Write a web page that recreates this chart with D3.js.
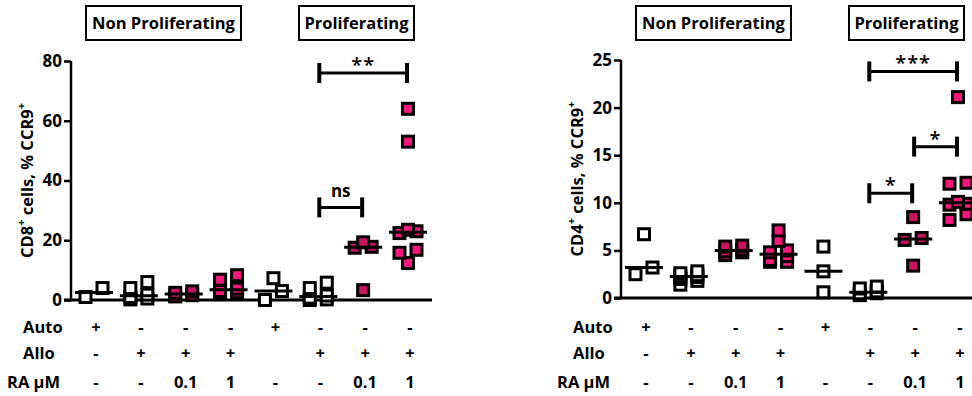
<!DOCTYPE html>
<html>
<head>
<meta charset="utf-8">
<script src="https://cdn.jsdelivr.net/npm/d3@7"></script>
<style>
  body { margin: 0; background: #fff; }
  svg { display: block; font-family: "Open Sans", Lato, sans-serif; font-weight: 700; }
</style>
</head>
<body>
<svg id="chart" width="972" height="396"></svg>
<script>
// ===== data =====
const groups = ['g1', 'g2', 'g3', 'g4', 'g5', 'g6', 'g7', 'g8'];
const rowNames = ['Auto', 'Allo', 'RA µM'];
const autoRow = ['+', '-', '-', '-', '+', '-', '-', '-'];
const alloRow = ['-', '+', '+', '+', '', '+', '+', '+'];
const raRow = ['-', '-', '0.1', '1', '-', '-', '0.1', '1'];
const fillKind = ['open', 'open', 'dark', 'pink', 'open', 'open', 'dark', 'pink'];
const headerLabels = ['Non Proliferating', 'Proliferating'];

// CD8 panel
const cd8Ticks = [0, 20, 40, 60, 80];
const cd8Values = [
  [1.0, 4.0],
  [6.0, 4.0, 1.8, 1.0, 0.5, 0.2],
  [2.9, 2.4, 1.6, 1.2],
  [8.3, 6.8, 3.8, 3.0, 2.6, 2.0],
  [7.3, 3.0, 0.0],
  [5.8, 4.0, 1.5, 0.8, 0.2, 0.0],
  [19.3, 17.8, 17.5, 3.3],
  [64, 53, 23.5, 23.0, 22.4, 16.8, 15.8, 12.4]
];
const cd8Sig = [
  { from: 5, to: 6, y: 31, label: 'ns' },
  { from: 5, to: 7, y: 76, label: '**' }
];

// CD4 panel
const cd4Ticks = [0, 5, 10, 15, 20, 25];
const cd4Values = [
  [6.7, 3.2, 2.5],
  [2.8, 2.6, 2.4, 2.3, 2.2, 2.0, 1.8, 1.4],
  [5.5, 5.4, 5.1, 4.9, 4.8, 4.5],
  [7.1, 6.0, 5.0, 4.8, 4.4, 4.0, 3.8, 3.8],
  [5.4, 2.8, 0.6],
  [1.2, 1.0, 0.7, 0.5, 0.5, 0.3],
  [8.5, 6.3, 6.1, 3.4],
  [21.1, 12.1, 12.0, 10.1, 9.9, 9.8, 8.8, 8.2]
];
const cd4Sig = [
  { from: 5, to: 6, y: 11.0, label: '*' },
  { from: 6, to: 7, y: 15.9, label: '*' },
  { from: 5, to: 7, y: 23.8, label: '***' }
];

const colors = { open: '#ffffff', dark: '#c8135f', pink: '#f5187c' };

const svg = d3.select('#chart');

// spread points of similar value side by side, two per row (lower value on the left)
function spread(vals, y, step) {
  const pts = vals.map(v => ({ v, py: y(v) })).sort((a, b) => b.py - a.py);
  const out = [];
  let row = [];
  const flush = () => {
    row.forEach((p, i) => { p.dx = (i - (row.length - 1) / 2) * step; out.push(p); });
    row = [];
  };
  pts.forEach(p => {
    if (row.length && (row[0].py - p.py > 9 || row.length >= 2)) flush();
    row.push(p);
  });
  flush();
  return out;
}

function drawPanel(ox, values, ticks, yTop, yBottom, sig, cellLabel) {
  const g = svg.append('g').attr('transform', `translate(${ox},0)`);
  const x = d3.scalePoint().domain(groups).range([94, 408]);
  const y = d3.scaleLinear().domain([0, d3.max(ticks)]).range([yBottom, yTop]);

  // header boxes
  const boxes = [[86, 241], [299, 414]];
  boxes.forEach((b, i) => {
    g.append('rect')
      .attr('x', b[0]).attr('y', 6)
      .attr('width', b[1] - b[0]).attr('height', 34)
      .attr('fill', '#fff').attr('stroke', '#000').attr('stroke-width', 2);
    g.append('text')
      .attr('x', (b[0] + b[1]) / 2).attr('y', 29)
      .attr('text-anchor', 'middle')
      .attr('font-size', 16.5)
      .text(headerLabels[i]);
  });

  // y axis
  const yAxis = g.append('g')
    .attr('transform', 'translate(71,0)')
    .call(d3.axisLeft(y).tickValues(ticks).tickSize(7).tickPadding(2));
  yAxis.select('.domain').attr('stroke', '#000').attr('stroke-width', 2.5)
    .attr('d', `M0,${yTop}V${yBottom}`);
  yAxis.selectAll('.tick line').attr('stroke', '#000').attr('stroke-width', 2.5);
  yAxis.selectAll('.tick text')
    .attr('font-family', '"Open Sans", sans-serif').attr('font-weight', 700)
    .attr('font-size', 17).attr('fill', '#000');

  // baseline
  g.append('line')
    .attr('x1', 64).attr('x2', 432)
    .attr('y1', y(0)).attr('y2', y(0))
    .attr('stroke', '#000').attr('stroke-width', 3);

  // y title
  const t = g.append('text')
    .attr('transform', `translate(33,${(yTop + yBottom) / 2}) rotate(-90)`)
    .attr('text-anchor', 'middle')
    .attr('font-size', 16.5);
  t.append('tspan').text(cellLabel);
  t.append('tspan').attr('dy', -8).attr('font-size', 11).text('+');
  t.append('tspan').attr('dy', 8).text(' cells, % CCR9');
  t.append('tspan').attr('dy', -8).attr('font-size', 11).text('+');

  // points
  values.forEach((vals, i) => {
    const cx = x(groups[i]);
    const pts = spread(vals, y, 17);
    g.append('g').selectAll('rect')
      .data(pts)
      .join('rect')
      .attr('x', d => cx + d.dx - 5.5)
      .attr('y', d => d.py - 5.5)
      .attr('width', 11).attr('height', 11)
      .attr('fill', colors[fillKind[i]])
      .attr('stroke', '#000').attr('stroke-width', 3);
    const med = d3.median(vals);
    g.append('line')
      .attr('x1', cx - 19).attr('x2', cx + 19)
      .attr('y1', y(med)).attr('y2', y(med))
      .attr('stroke', '#000').attr('stroke-width', 3);
  });

  // significance brackets
  sig.forEach(s => {
    const x1 = x(groups[s.from]) + 1, x2 = x(groups[s.to]) - 1, yy = y(s.y);
    const b = g.append('g').attr('stroke', '#000');
    b.append('line').attr('x1', x1).attr('x2', x2).attr('y1', yy).attr('y2', yy).attr('stroke-width', 3);
    b.append('line').attr('x1', x1).attr('x2', x1).attr('y1', yy - 10).attr('y2', yy + 10).attr('stroke-width', 4);
    b.append('line').attr('x1', x2).attr('x2', x2).attr('y1', yy - 10).attr('y2', yy + 10).attr('stroke-width', 4);
    const isNs = s.label === 'ns';
    g.append('text')
      .attr('x', (x1 + x2) / 2).attr('y', isNs ? yy - 10 : yy - 1)
      .attr('text-anchor', 'middle')
      .attr('font-size', isNs ? 17 : 20)
      .attr('font-weight', isNs ? 700 : 600)
      .attr('letter-spacing', isNs ? 0 : 1)
      .text(s.label);
  });

  // condition table
  const rows = [autoRow, alloRow, raRow];
  const rowY = [333, 359, 388];
  const rowX = [23, 23, 7];
  rows.forEach((r, ri) => {
    g.append('text').attr('x', rowX[ri]).attr('y', rowY[ri])
      .attr('font-size', 16.5).text(rowNames[ri]);
    g.append('g').selectAll('text')
      .data(r)
      .join('text')
      .attr('x', (d, i) => x(groups[i]) + 2)
      .attr('y', rowY[ri])
      .attr('text-anchor', 'middle')
      .attr('font-size', 16.5)
      .text(d => d);
  });
}

drawPanel(0, cd8Values, cd8Ticks, 61, 300, cd8Sig, 'CD8');
drawPanel(550, cd4Values, cd4Ticks, 60, 298, cd4Sig, 'CD4');
</script>
</body>
</html>
